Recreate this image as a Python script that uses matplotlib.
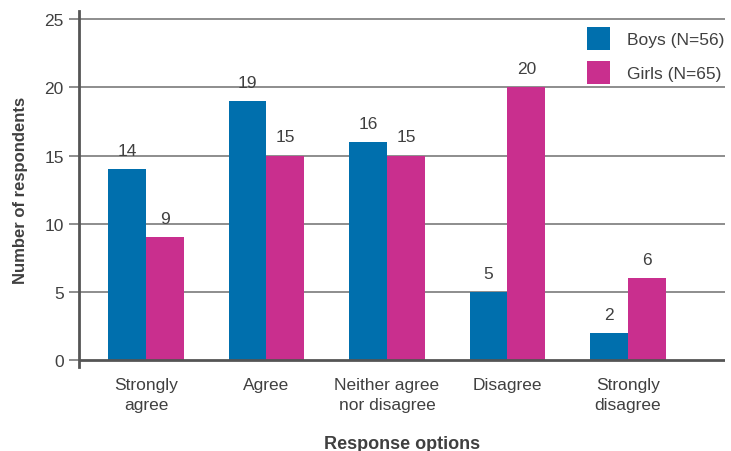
import numpy as np
import matplotlib
matplotlib.use('Agg')
import matplotlib.pyplot as plt

categories = ['Strongly\nagree', 'Agree', 'Neither agree\nnor disagree',
              'Disagree', 'Strongly\ndisagree']
boys = [14, 19, 16, 5, 2]
girls = [9, 15, 15, 20, 6]
series_names = ['Boys (N=56)', 'Girls (N=65)']

BLUE = '#006FAD'
PINK = '#C92F8E'
TXT = '#404040'
GRID = '#7a7a7a'
AXC = '#555555'
FS = 12.5

plt.rcParams['font.family'] = ['Liberation Sans', 'DejaVu Sans']

fig = plt.figure(figsize=(7.31, 4.52), dpi=100)
ax = fig.add_axes([79/731, 1 - 368/452, (725-79)/731, (368-12)/452])

x = np.arange(len(categories))
w = 0.315
b1 = ax.bar(x - w/2, boys, w, color=BLUE, label=series_names[0], zorder=3)
b2 = ax.bar(x + w/2, girls, w, color=PINK, label=series_names[1], zorder=3)

for bars, vals in [(b1, boys), (b2, girls)]:
    for r, v in zip(bars, vals):
        ax.annotate(str(v), xy=(r.get_x() + r.get_width()/2, v),
                    xytext=(0, 8), textcoords='offset points',
                    ha='center', va='bottom', fontsize=FS, color=TXT)

ax.set_xlim(-0.556, 4.805)
ax.set_ylim(-0.5, 25.6)
ax.set_yticks([0, 5, 10, 15, 20, 25])
for y in [5, 10, 15, 20, 25]:
    ax.axhline(y, color=GRID, lw=1.2, zorder=1)
ax.axhline(0, color=AXC, lw=2.0, zorder=4)

for s in ['top', 'right', 'bottom']:
    ax.spines[s].set_visible(False)
ax.spines['left'].set_color(AXC)
ax.spines['left'].set_linewidth(2.0)
ax.tick_params(axis='y', length=7, width=1.2, color=GRID, labelsize=FS,
               labelcolor=TXT, pad=4)
ax.tick_params(axis='x', length=0, labelsize=FS, labelcolor=TXT, pad=7)
ax.set_xticks(x)
ax.set_xticklabels(categories, linespacing=1.4)

ax.set_ylabel('Number of respondents', fontsize=12, fontweight='bold',
              color=TXT, labelpad=12)
ax.set_xlabel('Response options', fontsize=13, fontweight='bold',
              color=TXT, labelpad=17)

leg = ax.legend(loc='upper left', bbox_to_anchor=(587/731, 1 - 28/452),
                bbox_transform=fig.transFigure, frameon=False,
                fontsize=FS, handlelength=1.32, handleheight=1.7,
                labelspacing=0.6, handletextpad=1.0, borderaxespad=0,
                borderpad=0)
for t in leg.get_texts():
    t.set_color(TXT)

fig.savefig('out.png', dpi=100)
